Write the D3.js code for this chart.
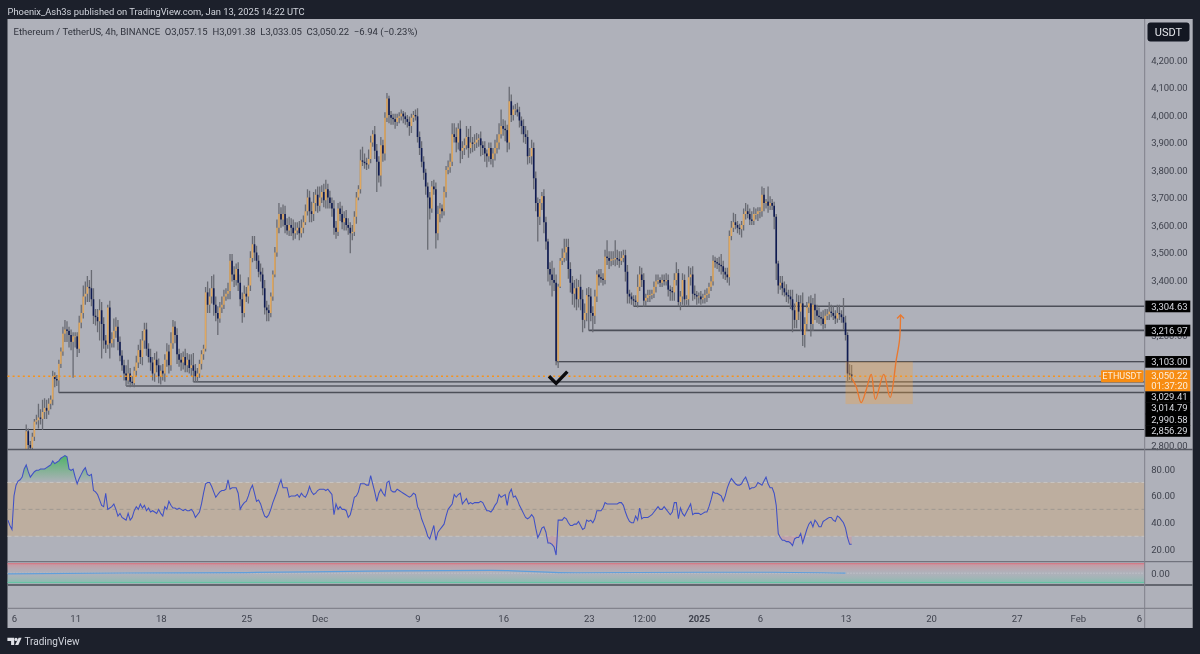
<!DOCTYPE html>
<html>
<head>
<meta charset="utf-8">
<title>ETHUSDT 4h</title>
<script src="https://d3js.org/d3.v7.min.js"></script>
<style>
	html, body { margin: 0; padding: 0; background: #1c202b; }
	svg { display: block; font-family: Roboto, "Noto Sans", sans-serif; filter: blur(0.3px); }
	.axisText text { fill: #3f424d; font-size: 9.5px; font-family: Roboto, sans-serif; }
	.axisText .domain { display: none; }
</style>
</head>
<body>
<svg width="1200" height="654"></svg>
<script>
// 4h closes, one line per day, first bar Nov 7 00:00 UTC
var closes = [
	2850,2800,2790,2830,2885,2890,
	2900,2895,2920,2935,2925,2950,
	2965,3050,3040,3035,3095,3140,
	3205,3220,3215,3200,3175,3195,
	3195,3150,3245,3280,3340,3350,
	3375,3370,3330,3270,3265,3250,
	3290,3240,3180,3165,3300,3170,
	3185,3215,3230,3175,3125,3090,
	3060,3035,3060,3030,3025,3070,
	3100,3145,3120,3180,3220,3150,
	3120,3100,3060,3110,3090,3050,
	3070,3060,3110,3140,3090,3170,
	3230,3200,3130,3110,3100,3120,
	3090,3110,3080,3090,3070,3050,
	3060,3095,3130,3150,3355,3310,
	3340,3370,3310,3280,3260,3300,
	3310,3340,3350,3360,3470,3420,
	3400,3440,3390,3330,3280,3350,
	3340,3380,3480,3530,3500,3470,
	3430,3420,3370,3300,3290,3280,
	3340,3420,3500,3590,3640,3620,
	3640,3600,3580,3600,3590,3570,
	3580,3590,3570,3590,3610,3650,
	3700,3650,3640,3680,3710,3670,
	3700,3720,3690,3730,3700,3680,
	3660,3590,3575,3660,3640,3610,
	3625,3600,3590,3570,3575,3630,
	3700,3730,3835,3830,3825,3820,
	3840,3900,3930,3870,3830,3780,
	3890,3860,3990,4060,4000,3990,
	3985,3975,3990,3995,4005,3995,
	3985,3975,3960,3990,4000,3995,
	3920,3880,3830,3790,3740,3700,
	3660,3740,3730,3570,3640,3660,
	3650,3720,3800,3810,3830,3930,
	3920,3900,3950,3870,3880,3890,
	3920,3880,3900,3895,3900,3910,
	3915,3890,3880,3860,3850,3880,
	3840,3860,3880,3900,3930,3960,
	3950,3945,3900,4050,4000,4020,
	4020,4010,3980,3960,3930,3920,
	3850,3850,3880,3770,3680,3630,
	3680,3705,3610,3540,3440,3420,
	3400,3390,3105,3376,3470,3480,
	3500,3520,3440,3390,3350,3370,
	3330,3375,3330,3255,3280,3345,
	3340,3280,3270,3340,3420,3410,
	3405,3400,3485,3480,3470,3475,
	3475,3480,3475,3470,3480,3490,
	3430,3350,3340,3330,3325,3320,
	3375,3420,3400,3325,3335,3345,
	3345,3350,3375,3395,3400,3390,
	3400,3395,3400,3365,3360,3355,
	3400,3425,3320,3340,3400,3330,
	3330,3410,3420,3350,3345,3340,
	3340,3330,3335,3345,3350,3375,
	3395,3470,3465,3460,3455,3450,
	3430,3420,3410,3560,3590,3610,
	3600,3590,3585,3600,3640,3650,
	3640,3620,3615,3640,3640,3650,
	3650,3710,3680,3685,3670,3680,
	3670,3630,3460,3380,3390,3370,
	3355,3345,3340,3330,3290,3255,
	3320,3285,3315,3200,3240,3300,
	3315,3240,3310,3290,3270,3265,
	3260,3240,3270,3275,3285,3280,
	3270,3260,3280,3275,3265,3245,
	3200,3060,3057,3050
];

// how far each high sits above the body
var wickUp = [
	25,10,15,15,10,20,
	50,30,45,35,30,20,
	15,20,15,15,15,15,
	25,35,30,15,20,15,
	15,15,25,30,40,45,
	40,25,66,40,25,30,
	40,30,25,20,10,25,
	25,45,35,25,20,20,
	20,30,50,20,20,15,
	25,20,40,35,25,25,
	20,30,20,25,30,25,
	20,25,20,30,25,40,
	25,20,25,20,25,20,
	30,25,20,40,45,25,
	20,15,15,15,20,40,
	30,45,50,30,25,20,
	30,25,20,30,25,25,
	30,20,25,30,25,30,
	25,30,25,30,30,25,
	20,30,25,30,25,20,
	15,15,20,30,40,25,
	35,30,25,30,25,30,
	30,20,25,30,25,25,
	30,25,35,40,20,30,
	40,25,30,35,20,25,
	20,30,25,20,25,30,
	25,30,25,20,25,20,
	20,15,40,50,30,20,
	35,25,15,30,25,20,
	30,20,20,20,10,15,
	15,20,15,15,15,10,
	15,15,20,15,15,20,
	30,20,25,20,15,15,
	20,20,25,25,30,20,
	15,20,15,25,30,40,
	40,35,20,30,25,25,
	40,30,60,20,30,25,
	15,25,15,25,15,20,
	20,20,30,30,40,60,
	25,30,20,53,25,15,
	20,25,20,15,25,30,
	25,30,30,20,25,20,
	15,15,25,20,10,25,
	50,45,30,10,10,35,
	50,30,30,25,25,30,
	35,25,45,35,35,25,
	30,30,25,25,15,20,
	30,20,25,60,25,30,
	30,65,30,30,25,20,
	20,25,15,15,15,20,
	45,30,25,25,15,20,
	20,15,20,25,20,10,
	20,20,25,20,15,15,
	25,40,15,20,25,20,
	15,40,25,30,30,15,
	15,20,15,20,20,15,
	20,20,15,15,25,40,
	20,15,25,20,25,35,
	30,15,15,15,20,30,
	25,20,30,25,20,15,
	15,30,25,10,55,25,
	15,15,10,10,25,25,
	25,30,20,25,35,25,
	30,25,30,40,25,20,
	25,30,25,40,20,30,
	20,30,25,20,35,25,
	25,20,30,30,15,70,
	25,10,34,34
];

// how far each low sits under the body
var wickDown = [
	30,20,30,10,15,10,
	30,20,40,25,30,15,
	20,20,30,20,45,15,
	15,30,40,45,30,130,
	40,30,15,20,20,30,
	30,50,25,30,30,40,
	70,125,30,30,15,55,
	15,30,25,30,20,20,
	25,20,15,20,10,15,
	20,20,25,30,30,25,
	20,30,25,30,25,25,
	30,25,30,25,30,20,
	20,30,35,25,30,25,
	25,25,20,30,41,21,
	21,15,20,20,10,30,
	30,25,40,30,60,15,
	20,15,15,20,30,25,
	25,20,30,25,35,15,
	20,25,20,15,30,30,
	20,25,25,25,40,30,
	15,15,10,15,20,30,
	25,30,15,20,30,25,
	20,15,25,15,20,10,
	15,40,30,25,30,25,
	20,20,25,30,40,20,
	30,25,25,15,25,25,
	30,20,25,73,25,15,
	25,10,15,15,20,20,
	15,15,15,30,110,25,
	40,30,25,15,30,25,
	20,25,15,20,15,25,
	20,20,35,25,15,15,
	20,25,20,25,30,190,
	40,15,20,55,25,30,
	25,15,20,15,20,15,
	20,35,25,45,30,25,
	15,35,20,30,25,20,
	25,40,25,30,40,20,
	20,30,25,20,25,15,
	25,40,35,25,25,20,
	20,15,25,30,30,25,
	30,25,30,40,30,90,
	30,25,40,30,45,40,
	60,30,15,25,5,15,
	15,30,35,35,40,50,
	40,30,40,45,30,30,
	124,30,60,30,20,30,
	15,20,15,25,30,20,
	20,25,20,25,15,15,
	35,35,25,20,20,15,
	20,15,25,22,20,15,
	25,15,15,20,10,15,
	15,15,15,25,35,30,
	30,20,15,30,30,25,
	20,25,30,25,15,30,
	25,20,15,20,25,15,
	15,15,20,20,25,30,
	25,20,20,30,15,15,
	15,20,20,30,20,20,
	15,20,15,15,20,25,
	25,20,30,20,25,15,
	15,45,60,30,15,25,
	15,25,25,35,80,30,
	30,30,70,40,45,25,
	20,45,25,35,25,25,
	25,20,15,15,20,15,
	15,20,15,20,20,25,
	20,30,20,17
];

// RSI per 4h bar, first point Nov 5 12:00 UTC
var rsiValues = [
	42,38,35,
	60,68,71,72,74,80,
	83,78,74,76,78,79,
	79,80,80,80,81,82,
	83,86,84,85,86,88,
	89,90,89,80,79,80,
	74,69,73,76,79,81,
	76,75,76,64,63,61,
	57,53,52,62,50,51,
	52,54,50,45,47,44,
	43,42,47,42,44,49,
	52,50,54,51,53,49,
	51,48,49,48,47,50,
	47,45,52,50,56,53,
	51,51,50,51,50,49,
	50,49,49,50,48,44,
	46,48,54,62,69,70,
	70,67,63,59,61,63,
	64,64,65,72,65,66,
	66,66,62,50,53,55,
	56,60,65,68,62,56,
	57,54,49,45,44,46,
	50,55,59,63,68,72,
	66,66,66,59,60,60,
	60,61,59,62,60,59,
	62,67,63,61,62,64,
	65,65,65,64,65,63,
	61,46,54,50,52,50,
	50,49,44,46,52,59,
	60,63,69,69,69,68,
	68,75,69,63,56,62,
	65,62,60,70,71,64,
	63,63,65,64,63,62,
	61,60,59,60,62,61,
	52,49,43,39,35,30,
	28,33,38,27,33,35,
	37,39,45,50,52,54,
	61,59,61,62,54,56,
	58,54,55,54,55,55,
	55,56,55,52,49,49,
	48,50,53,55,61,59,
	60,61,53,62,65,59,
	60,57,53,50,47,44,
	43,44,46,44,36,29,
	32,36,37,33,25,25,
	24,22,16,42,42,42,
	44,43,40,38,38,39,
	39,41,38,35,36,42,
	41,42,40,43,49,49,
	49,51,55,54,54,54,
	54,54,54,55,55,53,
	48,44,41,40,40,45,
	42,51,43,44,44,44,
	45,46,48,50,52,50,
	50,52,50,48,46,48,
	55,55,43,51,47,45,
	48,51,54,46,47,47,
	47,46,47,48,48,52,
	57,63,62,62,61,60,
	56,60,66,70,73,71,
	69,68,68,69,72,74,
	70,65,66,66,67,70,
	69,68,71,74,69,66,
	66,62,53,32,29,27,
	27,26,26,25,23,28,
	29,29,32,25,30,35,
	39,41,37,42,40,37,
	37,41,42,43,44,44,
	42,41,45,44,42,40,
	36,29,24,24
];

var oscDays = ["2024-11-05T12:00","2024-11-15","2024-11-25","2024-12-05","2024-12-15","2024-12-22","2025-01-01","2025-01-07","2025-01-13"];
var oscValues = [-0.08, 0.02, 0.07, 0.22, 0.3, 0.05, 0.1, 0.1, 0.0];

// 3,300 / 3,100 / 3,000 / 2,900 sit fully under the level labels in the picture
var priceTicks = [4200,4100,4000,3900,3800,3700,3600,3500,3400,3200,2800];
var rsiTicks = [80,60,40,20];
var timeTicks = ["2024-11-06","2024-11-11","2024-11-18","2024-11-25","2024-12-01","2024-12-09","2024-12-16","2024-12-23","2024-12-27T12:00","2025-01-01","2025-01-06","2025-01-13","2025-01-20","2025-01-27","2025-02-01","2025-02-06"];
var timeLabels = ["6","11","18","25","Dec","9","16","23","12:00","2025","6","13","20","27","Feb","6"];

// horizontal rays: price and the date they start from
var levelPrices = [3304.63,3216.97,3103.00,3029.41,3014.79,2990.58,2856.29];
var levelStarts = ["2024-12-26T16:00","2024-12-23T00:00","2024-12-20T08:00","2024-11-20T16:00","2024-11-15T04:00","2024-11-09T16:00","2024-11-05T12:00"];
var levelWidths = [1.7,1.7,1.1,1.3,1.1,1.5,1.2];
var levelColors = ["#4c4f58","#4c4f58","#2a2d35","#41444d","#2a2d35","#4c4f58","#33363f"];
var lastPrice = 3050.22;
var countdown = "01:37:20";

// forecast box and hand drawn path
var boxTimes = ["2025-01-13T00:00","2025-01-18T12:00"];
var boxPrices = [3103,2949];
var pathTimes = ["2025-01-13T12:30","2025-01-13T21:00","2025-01-14T06:45","2025-01-14T16:30","2025-01-15T02:30","2025-01-15T10:45","2025-01-16T03:00","2025-01-16T15:30","2025-01-17T03:30","2025-01-17T10:00","2025-01-17T12:00"];
var pathPrices = [3042,3012,2954,3000,3057,2966,3057,2973,3109,3182,3273];

// tick mark under the Dec 20 low
var checkTimes = ["2024-12-19T18:00","2024-12-20T08:00","2024-12-21T06:00"];
var checkPrices = [3050,3024,3067];

var parseT = function(s) { return new Date(s.length > 10 ? s + ":00Z" : s + "T00:00:00Z"); };

var plotLeft = 7.5, axisX = 1144.7, frameRight = 1192.7;
var svg = d3.select("svg");

var x = d3.scaleUtc().domain([parseT("2024-11-06"), parseT("2025-02-06")]).range([14, 1139]);
var y = d3.scaleLinear().domain([4200, 2800]).range([60, 445]);
var yRsi = d3.scaleLinear().domain([80, 20]).range([469, 549.7]);
var yOsc = d3.scaleLinear().domain([1, -1]).range([563.7, 582.7]);

var firstBar = parseT("2024-11-07");
var rsiStart = parseT("2024-11-05T12:00");

var bars = closes.map(function(c, i) {
	var o = i == 0 ? 2770 : closes[i - 1];
	return {
		t: d3.utcHour.offset(firstBar, i * 4),
		o: o,
		c: c,
		h: Math.max(o, c) + wickUp[i],
		l: Math.min(o, c) - wickDown[i]
	};
});

// frame
svg.append("rect").attr("width", 1200).attr("height", 654).attr("fill", "#1c202b");
svg.append("rect").attr("x", plotLeft).attr("y", 19).attr("width", frameRight - plotLeft).attr("height", 609).attr("fill", "#afb1ba");

var defs = svg.append("defs");
defs.append("clipPath").attr("id", "pricePane").append("rect").attr("x", plotLeft).attr("y", 19).attr("width", axisX - plotLeft).attr("height", 430);

var oscGrad = defs.append("linearGradient").attr("id", "oscFill").attr("x1", 0).attr("x2", 0).attr("y1", 0).attr("y2", 1);
oscGrad.append("stop").attr("offset", "0%").attr("stop-color", "#e0808a").attr("stop-opacity", 0.55);
oscGrad.append("stop").attr("offset", "50%").attr("stop-color", "#afb1ba").attr("stop-opacity", 0.2);
oscGrad.append("stop").attr("offset", "100%").attr("stop-color", "#63c7a5").attr("stop-opacity", 0.55);

var greenGrad = defs.append("linearGradient").attr("id", "obFill").attr("gradientUnits", "userSpaceOnUse")
	.attr("x1", 0).attr("x2", 0).attr("y1", yRsi(90)).attr("y2", yRsi(70));
greenGrad.append("stop").attr("offset", "0%").attr("stop-color", "#45b35f").attr("stop-opacity", 0.9);
greenGrad.append("stop").attr("offset", "100%").attr("stop-color", "#45b35f").attr("stop-opacity", 0);

// price axis goes first so the level labels can sit on top of it
var priceAxis = svg.append("g").attr("class", "axisText").attr("transform", "translate(" + axisX + ",0)")
	.call(d3.axisRight(y).tickValues(priceTicks).tickFormat(d3.format(",.2f")).tickSize(0).tickPadding(6.5));

var rsiAxis = svg.append("g").attr("class", "axisText").attr("transform", "translate(" + axisX + ",0)")
	.call(d3.axisRight(yRsi).tickValues(rsiTicks).tickFormat(d3.format(".2f")).tickSize(0).tickPadding(6.5));

svg.append("g").attr("class", "axisText").attr("transform", "translate(" + axisX + ",0)")
	.call(d3.axisRight(yOsc).tickValues([0]).tickFormat(d3.format(".2f")).tickSize(0).tickPadding(6.5));

var timeAxis = svg.append("g").attr("class", "axisText").attr("transform", "translate(0,609)")
	.call(d3.axisBottom(x).tickValues(timeTicks.map(parseT)).tickFormat(function(d, i) { return timeLabels[i]; }).tickSize(0).tickPadding(6));
timeAxis.selectAll("text").filter(function(d, i) { return timeLabels[i] == "2025"; }).style("font-weight", 700);

// price pane
var price = svg.append("g").attr("clip-path", "url(#pricePane)");

price.selectAll("line.level").data(levelPrices).enter().append("line")
	.attr("class", "level")
	.attr("x1", function(d, i) { return x(parseT(levelStarts[i])); })
	.attr("x2", axisX)
	.attr("y1", function(d) { return y(d); })
	.attr("y2", function(d) { return y(d); })
	.attr("stroke", function(d, i) { return levelColors[i]; })
	.attr("stroke-width", function(d, i) { return levelWidths[i]; });

price.selectAll("line.wick").data(bars).enter().append("line")
	.attr("class", "wick")
	.attr("x1", function(d) { return x(d.t); })
	.attr("x2", function(d) { return x(d.t); })
	.attr("y1", function(d) { return y(d.h); })
	.attr("y2", function(d) { return y(d.l); })
	.attr("stroke", "#696b73")
	.attr("stroke-width", 1.3);

price.selectAll("rect.body").data(bars).enter().append("rect")
	.attr("class", "body")
	.attr("x", function(d) { return x(d.t) - 0.8; })
	.attr("width", 1.6)
	.attr("y", function(d) { return y(Math.max(d.o, d.c)); })
	.attr("height", function(d) { return Math.max(0.8, Math.abs(y(d.o) - y(d.c))); })
	.attr("fill", function(d) { return d.c >= d.o ? "#dfa860" : "#0f1b52"; });

svg.append("line").attr("x1", plotLeft).attr("x2", 1101)
	.attr("y1", y(lastPrice)).attr("y2", y(lastPrice))
	.attr("stroke", "#f7931a").attr("stroke-width", 1.5).attr("stroke-dasharray", "2 3.1");

svg.append("rect")
	.attr("x", x(parseT(boxTimes[0])))
	.attr("y", y(boxPrices[0]))
	.attr("width", x(parseT(boxTimes[1])) - x(parseT(boxTimes[0])))
	.attr("height", y(boxPrices[1]) - y(boxPrices[0]))
	.attr("fill", "#f7a336").attr("fill-opacity", 0.3);

var drawLine = d3.line()
	.x(function(d) { return x(parseT(d[0])); })
	.y(function(d) { return y(d[1]); });

svg.append("path")
	.attr("d", drawLine.curve(d3.curveCatmullRom)(d3.zip(pathTimes, pathPrices)))
	.attr("fill", "none").attr("stroke", "#e9782f").attr("stroke-width", 1.35);

var tipX = x(parseT(pathTimes[pathTimes.length - 1])), tipY = y(pathPrices[pathPrices.length - 1]);
svg.append("path")
	.attr("d", "M" + (tipX - 3.5) + "," + (tipY + 3.5) + "L" + tipX + "," + tipY + "L" + (tipX + 3.5) + "," + (tipY + 3.5))
	.attr("fill", "none").attr("stroke", "#e9782f").attr("stroke-width", 1.35);

svg.append("path")
	.attr("d", drawLine.curve(d3.curveLinear)(d3.zip(checkTimes, checkPrices)))
	.attr("fill", "none").attr("stroke", "#0b0b0e").attr("stroke-width", 3.4);

// RSI pane
var rsiX = function(i) { return x(d3.utcHour.offset(rsiStart, i * 4)); };

svg.append("rect")
	.attr("x", plotLeft).attr("width", axisX - plotLeft)
	.attr("y", yRsi(70)).attr("height", yRsi(30) - yRsi(70))
	.attr("fill", "#f7a336").attr("fill-opacity", 0.2);

[[70, "#c9c6c4"], [30, "#c9c6c4"], [50, "#9c958f"]].forEach(function(g) {
	svg.append("line").attr("x1", plotLeft).attr("x2", axisX)
		.attr("y1", yRsi(g[0])).attr("y2", yRsi(g[0]))
		.attr("stroke", g[1]).attr("stroke-width", 0.9).attr("stroke-dasharray", "4 3");
});

svg.append("path")
	.datum(rsiValues)
	.attr("d", d3.area()
		.x(function(d, i) { return rsiX(i); })
		.y0(yRsi(70))
		.y1(function(d) { return yRsi(Math.max(d, 70)); }))
	.attr("fill", "url(#obFill)");

svg.append("path")
	.datum(rsiValues)
	.attr("d", d3.area()
		.x(function(d, i) { return rsiX(i); })
		.y0(yRsi(30))
		.y1(function(d) { return yRsi(Math.min(d, 30)); }))
	.attr("fill", "#e0808a").attr("fill-opacity", 0.3);

svg.append("path")
	.datum(rsiValues)
	.attr("d", d3.line().x(function(d, i) { return rsiX(i); }).y(function(d) { return yRsi(d); }))
	.attr("fill", "none").attr("stroke", "#3f50c6").attr("stroke-width", 1.05);

// oscillator pane
svg.append("rect")
	.attr("x", plotLeft).attr("width", axisX - plotLeft)
	.attr("y", yOsc(1)).attr("height", yOsc(-1) - yOsc(1))
	.attr("fill", "url(#oscFill)");
svg.append("line").attr("x1", plotLeft).attr("x2", axisX).attr("y1", yOsc(1)).attr("y2", yOsc(1)).attr("stroke", "#d9707e").attr("stroke-width", 1);
svg.append("line").attr("x1", plotLeft).attr("x2", axisX).attr("y1", yOsc(-1)).attr("y2", yOsc(-1)).attr("stroke", "#5cc6a0").attr("stroke-width", 1);
svg.append("line").attr("x1", plotLeft).attr("x2", axisX).attr("y1", yOsc(0)).attr("y2", yOsc(0)).attr("stroke", "#d5d7dc").attr("stroke-width", 0.7).attr("stroke-dasharray", "1 2");
svg.append("path")
	.datum(oscValues)
	.attr("d", d3.line()
		.x(function(d, i) { return x(parseT(oscDays[i])); })
		.y(function(d) { return yOsc(d); })
		.curve(d3.curveMonotoneX))
	.attr("fill", "none").attr("stroke", "#5f9fdc").attr("stroke-width", 1.2);

// pane separators and axis line
[[449.5, 1.4, "#555862"], [561.7, 1, "#63666f"], [585, 2, "#63666f"], [608.3, 1, "#777983"]].forEach(function(s) {
	svg.append("line").attr("x1", plotLeft).attr("x2", frameRight)
		.attr("y1", s[0]).attr("y2", s[0])
		.attr("stroke", s[2]).attr("stroke-width", s[1]);
});
svg.append("line").attr("x1", axisX).attr("x2", axisX).attr("y1", 19).attr("y2", 628).attr("stroke", "#7f818b").attr("stroke-width", 1);

// level labels stack under each other when they would collide
var labelH = 11.3;
var labelBoxX = axisX + 0.6, labelBoxW = 45;
var bottom = 0, labelY = [];
levelPrices.forEach(function(p) {
	var c = y(p);
	if (p < lastPrice) bottom = Math.max(bottom, y(lastPrice) + 15);
	c = Math.max(c, bottom + labelH / 2);
	labelY.push(c);
	bottom = c + labelH / 2;
});

svg.selectAll("rect.lvlBox").data(levelPrices).enter().append("rect")
	.attr("class", "lvlBox")
	.attr("x", labelBoxX).attr("width", labelBoxW)
	.attr("y", function(d, i) { return labelY[i] - labelH / 2; })
	.attr("height", labelH + 0.4)
	.attr("fill", "#000");

svg.selectAll("text.lvlText").data(levelPrices).enter().append("text")
	.attr("class", "lvlText")
	.attr("x", axisX + 6.5)
	.attr("y", function(d, i) { return labelY[i]; })
	.attr("dy", "0.35em")
	.attr("font-size", 9.5)
	.attr("fill", "#d6d8de")
	.text(function(d) { return d3.format(",.2f")(d); });

// last price labels
svg.append("rect").attr("x", 1101).attr("y", y(lastPrice) - 6).attr("width", 42.5).attr("height", 12).attr("rx", 1).attr("fill", "#f78c12");
svg.append("text").attr("x", 1122).attr("y", y(lastPrice)).attr("dy", "0.35em").attr("text-anchor", "middle")
	.attr("font-size", 9).attr("fill", "#fbeedd").text("ETHUSDT");
svg.append("rect").attr("x", labelBoxX).attr("y", y(lastPrice) - 6).attr("width", labelBoxW).attr("height", 21).attr("fill", "#f78c12");
svg.append("text").attr("x", axisX + 6.5).attr("y", y(lastPrice)).attr("dy", "0.33em")
	.attr("font-size", 9.5).attr("fill", "#fbeedd").text(d3.format(",.2f")(lastPrice));
svg.append("text").attr("x", axisX + 6.5).attr("y", y(lastPrice) + 9.6).attr("dy", "0.33em")
	.attr("font-size", 9.5).attr("fill", "#fbeedd").text(countdown);

// currency button
svg.append("rect").attr("x", 1147.5).attr("y", 22.5).attr("width", 42).attr("height", 19).attr("rx", 3).attr("fill", "#131722");
svg.append("text").attr("x", 1168.5).attr("y", 32).attr("dy", "0.36em").attr("text-anchor", "middle")
	.attr("font-size", 11).attr("fill", "#e3e5ea").text("USDT");

// header and legend
svg.append("text").attr("x", 7.5).attr("y", 15).attr("font-size", 9.4).attr("fill", "#d1d4dc")
	.text("Phoenix_Ash3s published on TradingView.com, Jan 13, 2025 14:22 UTC");
svg.append("text").attr("x", 13.5).attr("y", 34.5).attr("font-size", 9.5).attr("fill", "#30333d")
	.attr("xml:space", "preserve")
	.text("Ethereum / TetherUS, 4h, BINANCE  O3,057.15  H3,091.38  L3,033.05  C3,050.22  \u22126.94 (\u22120.23%)");

// footer logo
var logo = svg.append("g").attr("fill", "#dfe1e7");
logo.append("path").attr("d", "M7.4 637.8h6.8v7.2h-3.1v-4.1H7.4z");
logo.append("circle").attr("cx", 16).attr("cy", 639.4).attr("r", 1.6);
logo.append("path").attr("d", "M18.6 637.8h3l-3.3 7.2h-3.2z");
svg.append("text").attr("x", 24.5).attr("y", 645).attr("font-size", 10).attr("fill", "#d1d4dc").text("TradingView");
</script>
</body>
</html>
